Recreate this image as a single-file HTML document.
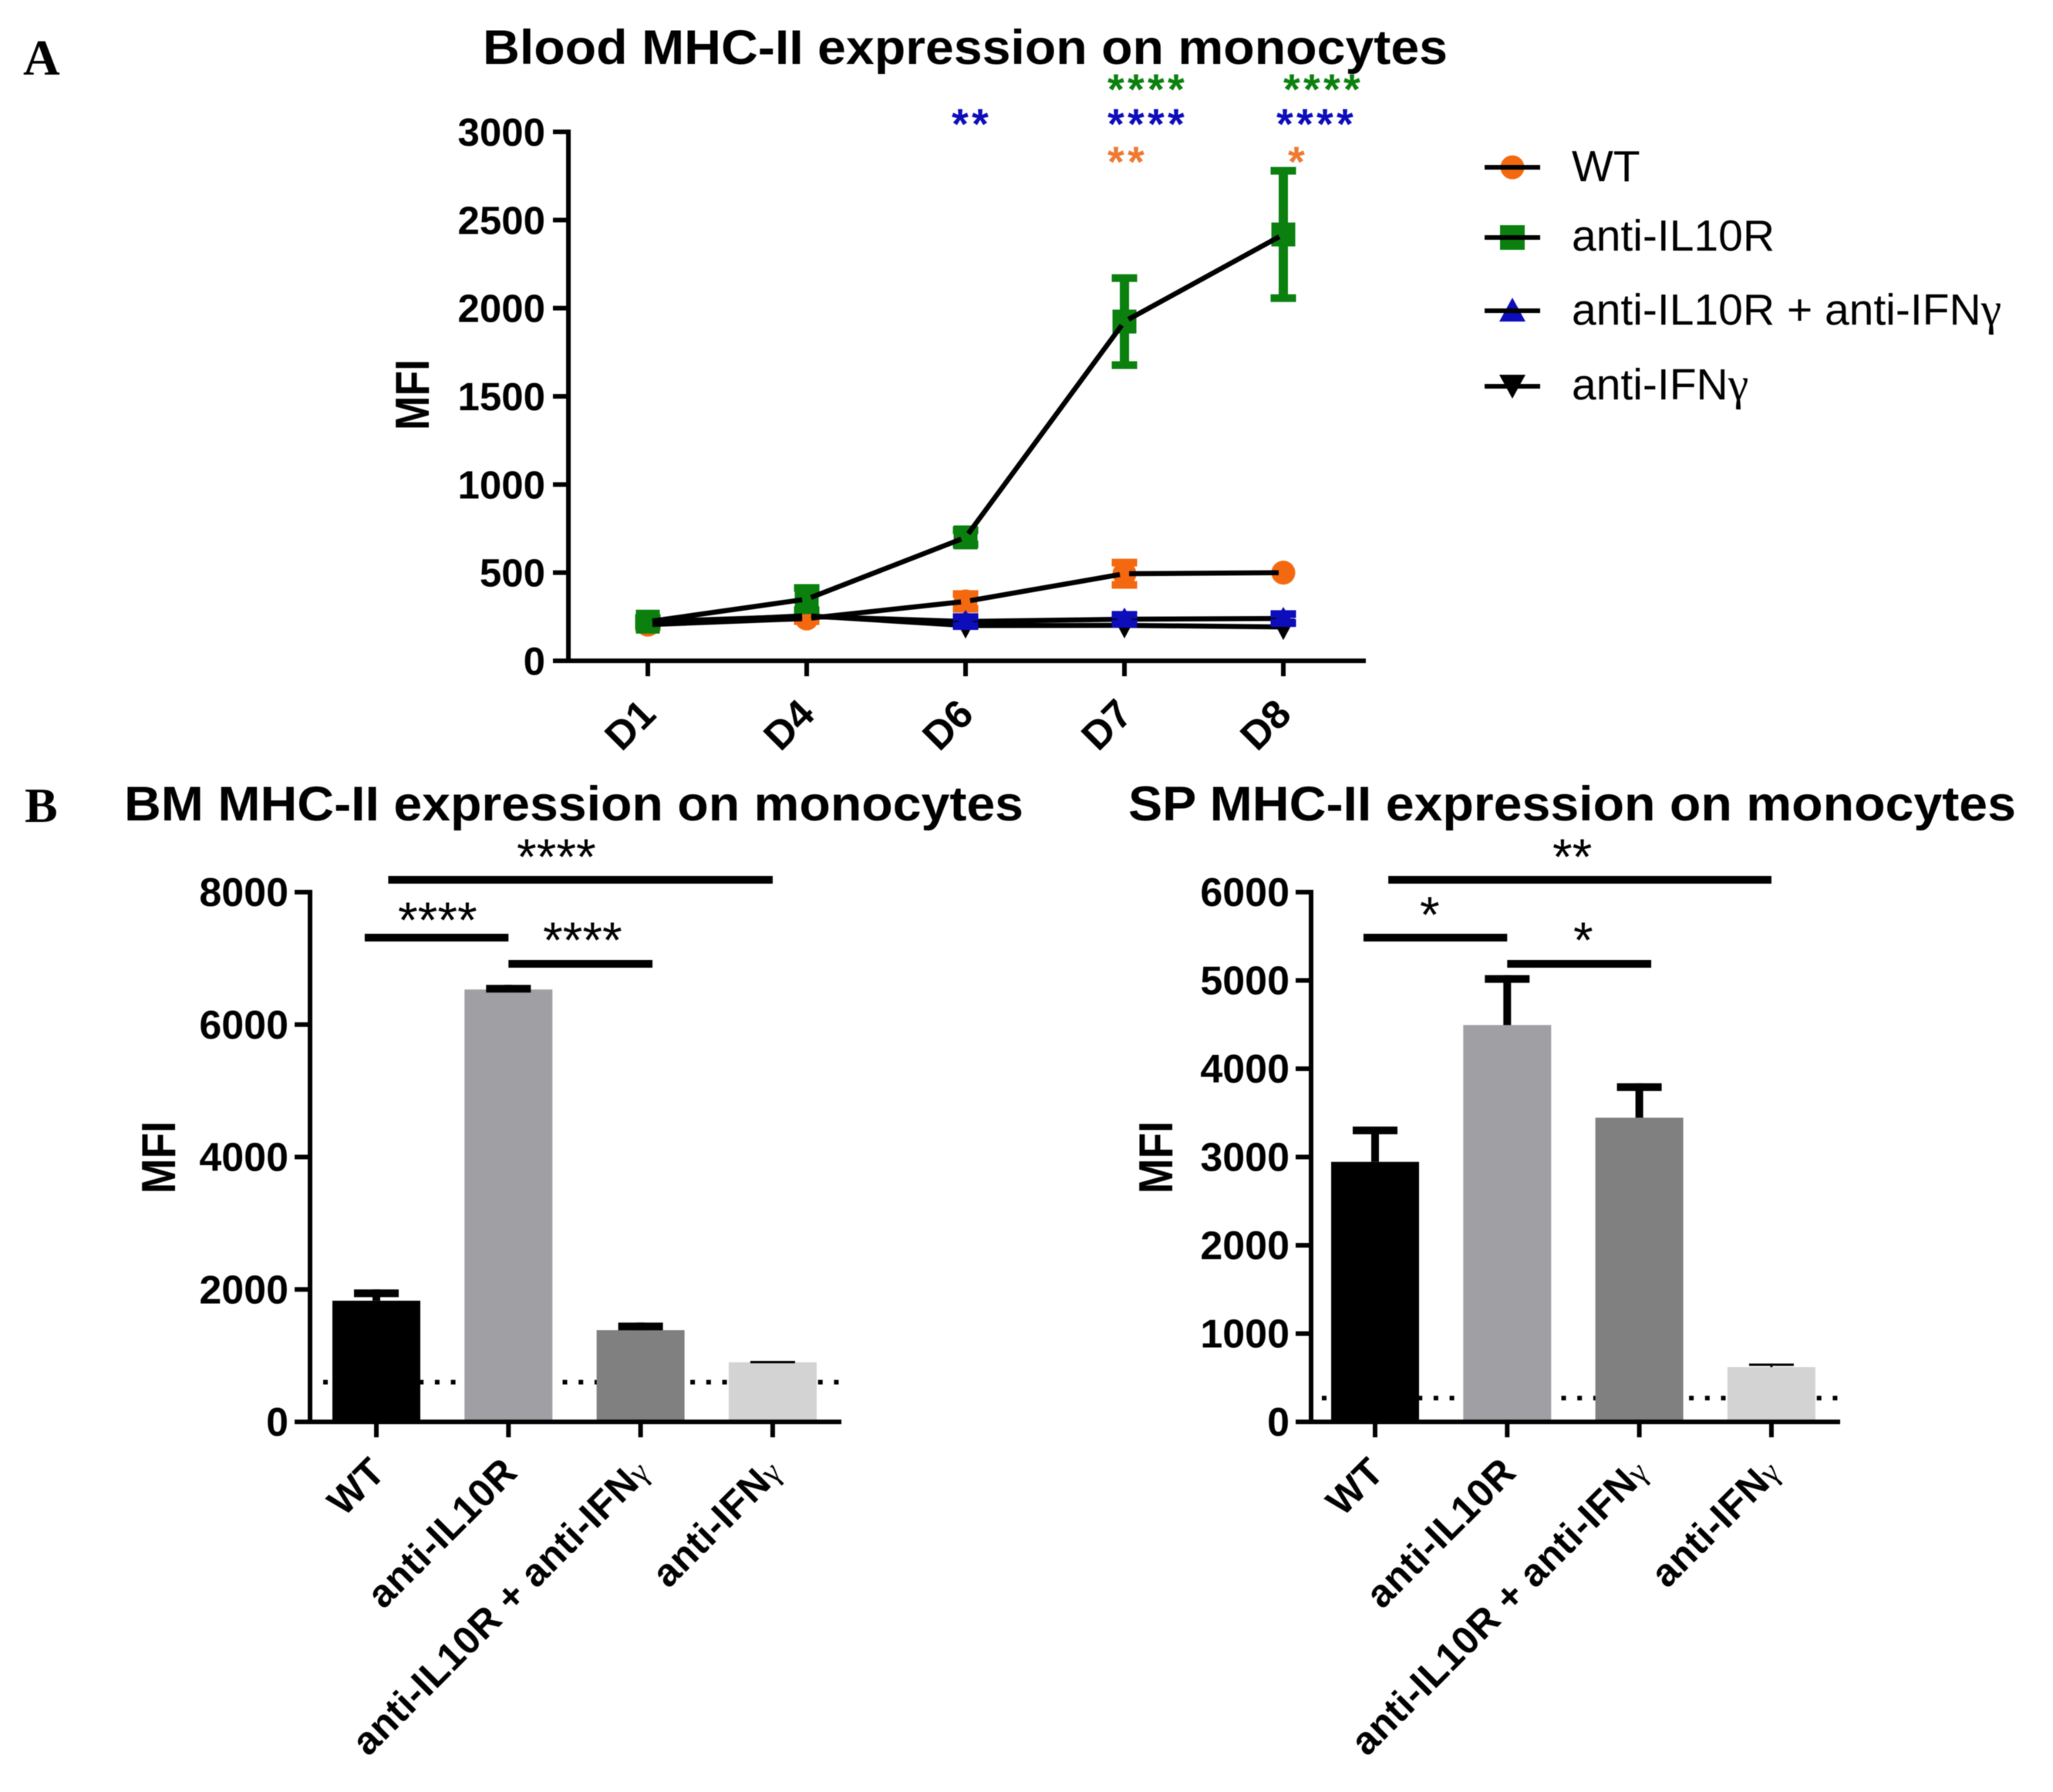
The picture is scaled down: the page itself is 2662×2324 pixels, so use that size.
<!DOCTYPE html>
<html lang="en">
<head>
<meta charset="utf-8">
<title>MHC-II expression on monocytes</title>
<style>
  html, body { margin: 0; padding: 0; background: #fff; }
  svg { display: block; filter: blur(0.6px); }
  text { font-family: "Liberation Sans", sans-serif; fill: #000; }
</style>
</head>
<body>
<svg id="figure" xmlns="http://www.w3.org/2000/svg" width="2662" height="2324" viewBox="0 0 2662 2324">
  <rect x="0" y="0" width="2662" height="2324" fill="#fff"/>

  <text x="30" y="97" style="font-family:'Liberation Serif',serif;font-weight:700;font-size:66px">A</text>
  <text x="32" y="1066" style="font-family:'Liberation Serif',serif;font-weight:700;font-size:64px">B</text>

  <text x="626" y="83" font-size="63" font-weight="700" textLength="1251" lengthAdjust="spacingAndGlyphs">Blood MHC-II expression on monocytes</text>
  <text x="161" y="1064" font-size="63" font-weight="700" textLength="1166" lengthAdjust="spacingAndGlyphs">BM MHC-II expression on monocytes</text>
  <text x="1463" y="1064" font-size="63" font-weight="700" textLength="1151" lengthAdjust="spacingAndGlyphs">SP MHC-II expression on monocytes</text>

  <g>
    <g>
      <circle cx="1961" cy="217" r="15.5" fill="#f4690f"/>
      <rect x="1925" y="214" width="72" height="6" fill="#000"/>
      <text x="2038" y="235" font-size="57">WT</text>
    </g>
    <g>
      <rect x="1945" y="292" width="32" height="32" fill="#0b800f"/>
      <rect x="1925" y="305" width="72" height="6" fill="#000"/>
      <text x="2038" y="325" font-size="57">anti-IL10R</text>
    </g>
    <g>
      <polygon points="1961,386 1978,417 1944,417" fill="#0d0dbb"/>
      <rect x="1925" y="400" width="72" height="6" fill="#000"/>
      <text x="2038" y="421" font-size="57">anti-IL10R + anti-IFN<tspan style="font-family:'Liberation Serif',serif" font-size="60">γ</tspan></text>
    </g>
    <g>
      <polygon points="1961,517 1978,486 1944,486" fill="#000"/>
      <rect x="1925" y="498" width="72" height="6" fill="#000"/>
      <text x="2038" y="518" font-size="57">anti-IFN<tspan style="font-family:'Liberation Serif',serif" font-size="60">γ</tspan></text>
    </g>
  </g>
</svg>

<script>
// ---------- Panel A data ----------
const dayCategories = ['D1', 'D4', 'D6', 'D7', 'D8'];
const bloodTicks = [0, 500, 1000, 1500, 2000, 2500, 3000];
const wtValues = [205, 240, 337, 494, 500];
const wtErrors = [15, 15, 42, 63, 0];
const il10rValues = [222, 350, 700, 1924, 2418];
const il10rErrors = [20, 63, 40, 247, 361];
const comboValues = [222, 252, 223, 236, 240];
const comboErrors = [20, 20, 25, 25, 25];
const ifngValues = [212, 256, 200, 201, 192];
const ifngErrors = [20, 20, 30, 30, 30];
const wtStars = ['', '', '', '**', '*'];
const il10rStars = ['', '', '', '****', '****'];
const comboStars = ['', '', '**', '****', '****'];

// ---------- Panel B data ----------
const groupCategories = ['WT', 'anti-IL10R', 'anti-IL10R + anti-IFNγ', 'anti-IFNγ'];
const bmTicks = [0, 2000, 4000, 6000, 8000];
const bmMeans = [1830, 6530, 1385, 900];
const bmErrors = [170, 70, 115, 20];
const bmBaseline = [600];
const spTicks = [0, 1000, 2000, 3000, 4000, 5000, 6000];
const spMeans = [2945, 4495, 3445, 620];
const spErrors = [400, 565, 390, 40];
const spBaseline = [270];
const bmSigLabels = ['****', '****', '****'];
const spSigLabels = ['**', '*', '*'];

// ---------- helpers ----------
const NS = 'http://www.w3.org/2000/svg';
const root = document.getElementById('figure');
function mk(tag, attrs, parent) {
  const el = document.createElementNS(NS, tag);
  for (const k in attrs) el.setAttribute(k, attrs[k]);
  (parent || root).appendChild(el);
  return el;
}
function fillRich(el, str, gammaSize) {
  const parts = str.split('γ');
  el.appendChild(document.createTextNode(parts[0]));
  if (parts.length > 1) {
    const t = mk('tspan', { 'font-size': gammaSize, 'font-weight': '400', style: "font-family:'Liberation Serif',serif" }, el);
    t.textContent = 'γ';
  }
}

// ---------- Panel A scales ----------
const ax = { x0: 737, y0: 857, y1: 171, xFirst: 840, xStep: 206, xEnd: 1771, max: 3000 };
function xA(i) { return ax.xFirst + i * ax.xStep; }
function yA(v) { return ax.y0 - v * (ax.y0 - ax.y1) / ax.max; }

const COL_WT = '#f4690f', COL_IL = '#0b800f', COL_COMBO = '#0d0dbb', COL_IFN = '#000';

const panelA = mk('g', {});



const aAxisY = mk('line', { x1: ax.x0, x2: ax.x0, y1: ax.y1 - 3, y2: ax.y0 + 3, stroke: '#000', 'stroke-width': 6 }, panelA);


const aAxisX = mk('line', { x1: 717, x2: ax.xEnd, y1: ax.y0, y2: ax.y0, stroke: '#000', 'stroke-width': 6 }, panelA);



bloodTicks.forEach(function (t) {
  const tick = mk('line', { x1: 717, x2: ax.x0, y1: yA(t), y2: yA(t), stroke: '#000', 'stroke-width': 6 }, panelA);
  
  
  const lab = mk('text', { x: 707, y: yA(t) + 18, 'text-anchor': 'end', 'font-size': 51, 'font-weight': 700 }, panelA);
  
  
  lab.textContent = t;
});

dayCategories.forEach(function (c, i) {
  const tick = mk('line', { x1: xA(i), x2: xA(i), y1: ax.y0, y2: ax.y0 + 20, stroke: '#000', 'stroke-width': 6 }, panelA);
  
  
  const px = xA(i) + 13, py = 929;
  const lab = mk('text', { x: px, y: py, 'text-anchor': 'end', 'font-size': 52, 'font-weight': 700, transform: 'rotate(-45 ' + px + ' ' + py + ')' }, panelA);
  
  
  lab.textContent = c;
});

const aTitleY = mk('text', { x: 556, y: 512, 'text-anchor': 'middle', 'font-size': 62, 'font-weight': 700, textLength: 92, lengthAdjust: 'spacingAndGlyphs', transform: 'rotate(-90 556 512)' }, panelA);


aTitleY.textContent = 'MFI';

function errorBars(values, errors, color, group, from, to) {
  values.forEach(function (v, i) {
    if (i < from || i > to) return;
    const e = errors[i];
    if (e <= 0) return;
    const x = xA(i);
    const stem = mk('line', { x1: x, x2: x, y1: yA(v + e), y2: yA(v - e), stroke: color, 'stroke-width': 12 }, group);
    
    
    const capT = mk('line', { x1: x - 16.5, x2: x + 16.5, y1: yA(v + e), y2: yA(v + e), stroke: color, 'stroke-width': 10 }, group);
    
    
    const capB = mk('line', { x1: x - 16.5, x2: x + 16.5, y1: yA(v - e), y2: yA(v - e), stroke: color, 'stroke-width': 10 }, group);
    
    
  });
}
function seriesLine(values, group) {
  for (let i = 0; i < values.length - 1; i++) {
    const x1 = xA(i), y1 = yA(values[i]), x2 = xA(i + 1), y2 = yA(values[i + 1]);
    const len = Math.hypot(x2 - x1, y2 - y1);
    const ux = (x2 - x1) / len, uy = (y2 - y1) / len;
    const seg = mk('line', { x1: x1 + ux * 6, y1: y1 + uy * 6, x2: x2 - ux * 6, y2: y2 - uy * 6, stroke: '#000', 'stroke-width': 6.5 }, group);
    
    
  }
}
function ifngMarkers(group, from, to) {
  ifngValues.forEach(function (v, i) {
    if (i < from || i > to) return;
    const x = xA(i), y = yA(v);
    const m = mk('polygon', { points: (x - 15) + ',' + (y - 11) + ' ' + (x + 15) + ',' + (y - 11) + ' ' + x + ',' + (y + 17), fill: COL_IFN }, group);
    
    
  });
}
function comboMarkers(group, from, to) {
  errorBars(comboValues, comboErrors, COL_COMBO, group, from, to);
  comboValues.forEach(function (v, i) {
    if (i < from || i > to) return;
    const x = xA(i), y = yA(v);
    const m = mk('polygon', { points: (x - 16) + ',' + (y + 11) + ' ' + (x + 16) + ',' + (y + 11) + ' ' + x + ',' + (y - 15), fill: COL_COMBO }, group);
    
    
  });
}

// early time points: overlapping markers sit beneath WT and anti-IL10R
const gEarly = mk('g', {}, panelA);


ifngMarkers(gEarly, 0, 1);
comboMarkers(gEarly, 0, 1);

const gWT = mk('g', {}, panelA);


errorBars(wtValues, wtErrors, COL_WT, gWT, 0, 4);
wtValues.forEach(function (v, i) {
  const m = mk('circle', { cx: xA(i), cy: yA(v), r: 15.5, fill: COL_WT }, gWT);
  
  
});

const gIL = mk('g', {}, panelA);


errorBars(il10rValues, il10rErrors, COL_IL, gIL, 0, 4);
il10rValues.forEach(function (v, i) {
  const m = mk('rect', { x: xA(i) - 15.5, y: yA(v) - 15.5, width: 31, height: 31, fill: COL_IL }, gIL);
  
  
});

const gLines = mk('g', {}, panelA);


seriesLine(wtValues, gLines);
seriesLine(il10rValues, gLines);
seriesLine(comboValues, gLines);
seriesLine(ifngValues, gLines);

const gIFN = mk('g', {}, panelA);


ifngMarkers(gIFN, 2, 4);

const gCombo = mk('g', {}, panelA);


comboMarkers(gCombo, 2, 4);

// Significance stars above panel A
function starRow(labels, color, rowY, offsets, group) {
  labels.forEach(function (s, i) {
    if (!s) return;
    const st = mk('text', { x: xA(i) + offsets[i], y: rowY + 29, 'font-size': 56, 'font-weight': 700, 'letter-spacing': 4.2, style: 'fill:' + color }, group);
    
    
    st.textContent = s;
  });
}
starRow(il10rStars, COL_IL, 106, [0, 0, 0, -22, 0], panelA);
starRow(comboStars, COL_COMBO, 151, [0, 0, -18, -22, -9], panelA);
starRow(wtStars, '#ee7a32', 200, [0, 0, 0, -22, 6], panelA);

// ---------- Panel B ----------
function barChart(cfg) {
  const g = mk('g', {});
  
  

  const yS = function (v) { return cfg.y0 - v * (cfg.y0 - cfg.y1) / cfg.max; };
  const xS = function (i) { return cfg.xFirst + i * cfg.xStep; };

  // dotted baseline (behind bars)
  const dot = mk('line', { x1: cfg.dotFrom, x2: cfg.dotTo, y1: yS(cfg.baseline[0]), y2: yS(cfg.baseline[0]), stroke: '#000', 'stroke-width': 6, 'stroke-dasharray': '6 14.7' }, g);
  
  

  cfg.means.forEach(function (v, i) {
    const x = xS(i);
    const top = yS(v), errTop = yS(v + cfg.errors[i]);
    const thin = (top - errTop) < 5;
    const bar = mk('rect', { x: x - 57, y: top, width: 114, height: cfg.y0 - top, fill: cfg.colors[i] }, g);
    
    
    const stem = mk('line', { x1: x, x2: x, y1: top, y2: errTop, stroke: '#000', 'stroke-width': thin ? 3 : 10 }, g);
    
    
    const capH = thin ? 3 : 10;
    const capEl = mk('line', { x1: x - 29, x2: x + 29, y1: errTop + capH / 2, y2: errTop + capH / 2, stroke: '#000', 'stroke-width': capH }, g);
    
    
  });

  const axY = mk('line', { x1: cfg.x0, x2: cfg.x0, y1: cfg.y1 - 3, y2: cfg.y0 + 3, stroke: '#000', 'stroke-width': 6 }, g);
  
  
  const axX = mk('line', { x1: cfg.x0 - 20, x2: cfg.xEnd, y1: cfg.y0, y2: cfg.y0, stroke: '#000', 'stroke-width': 6 }, g);
  
  

  cfg.ticks.forEach(function (t) {
    const tk = mk('line', { x1: cfg.x0 - 20, x2: cfg.x0, y1: yS(t), y2: yS(t), stroke: '#000', 'stroke-width': 6 }, g);
    
    
    const lb = mk('text', { x: cfg.x0 - 28, y: yS(t) + 18, 'text-anchor': 'end', 'font-size': 52, 'font-weight': 700 }, g);
    
    
    lb.textContent = t;
  });

  cfg.categories.forEach(function (c, i) {
    const tk = mk('line', { x1: xS(i), x2: xS(i), y1: cfg.y0, y2: cfg.y0 + 20, stroke: '#000', 'stroke-width': 6 }, g);
    
    
    const px = xS(i) + 14, py = 1912;
    const lb = mk('text', { x: px, y: py, 'text-anchor': 'end', 'font-size': 50.5, 'font-weight': 700, 'letter-spacing': 0.5, transform: 'rotate(-45 ' + px + ' ' + py + ')' }, g);
    
    
    fillRich(lb, c, 42);
  });

  const yt = mk('text', { x: cfg.titleX, y: 1501, 'text-anchor': 'middle', 'font-size': 62, 'font-weight': 700, textLength: 94, lengthAdjust: 'spacingAndGlyphs', transform: 'rotate(-90 ' + cfg.titleX + ' 1501)' }, g);
  
  
  yt.textContent = 'MFI';

  cfg.brackets.forEach(function (b, k) {
    const br = mk('line', { x1: xS(b[0]), x2: xS(b[1]), y1: b[2], y2: b[2], stroke: '#000', 'stroke-width': 10 }, g);
    
    
    const st = mk('text', { x: b[3] - 2, y: b[4] + 32, 'font-size': 66 }, g);
    
    
    st.textContent = cfg.sigLabels[k];
  });
}

const barColors = ['#000000', '#a0a0a4', '#808080', '#d3d3d3'];

barChart({
  name: 'bm', categories: groupCategories, means: bmMeans, errors: bmErrors, ticks: bmTicks, baseline: bmBaseline,
  colors: barColors, x0: 402, xEnd: 1091, y0: 1844, y1: 1157, max: 8000, xFirst: 488, xStep: 171.3,
  dotFrom: 419, dotTo: 1090, titleX: 227, sigLabels: bmSigLabels,
  brackets: [[0.09, 3, 1141, 672, 1102], [-0.088, 1.0, 1216, 518, 1184], [1.0, 2.09, 1250, 706, 1210]]
});

barChart({
  name: 'sp', categories: groupCategories, means: spMeans, errors: spErrors, ticks: spTicks, baseline: spBaseline,
  colors: barColors, x0: 1700, xEnd: 2386, y0: 1844, y1: 1157, max: 6000, xFirst: 1783, xStep: 171.3,
  dotFrom: 1714, dotTo: 2385, titleX: 1520, sigLabels: spSigLabels,
  brackets: [[0.1, 3, 1141, 2015, 1102], [-0.088, 1.0, 1216, 1843, 1177], [1.0, 2.09, 1250, 2042, 1210]]
});
</script>
</body>
</html>
